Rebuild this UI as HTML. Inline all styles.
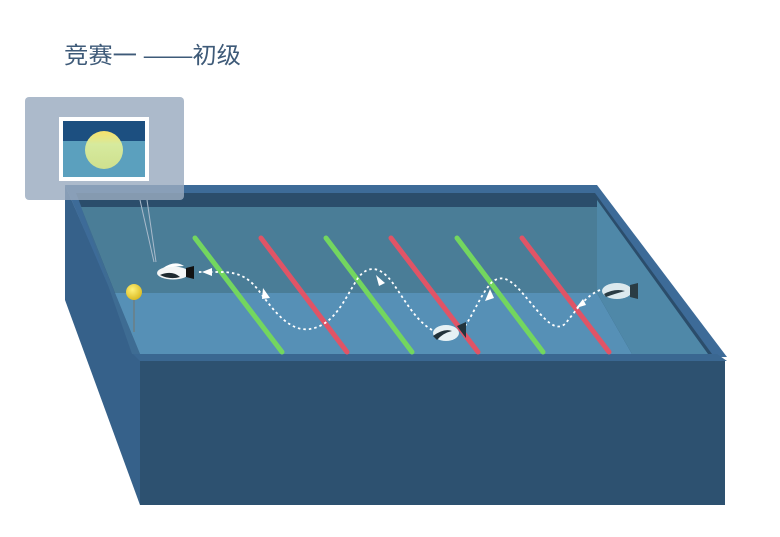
<!DOCTYPE html>
<html><head><meta charset="utf-8"><style>
html,body{margin:0;padding:0;background:#fff;width:780px;height:537px;overflow:hidden}
</style></head><body>
<svg width="780" height="537" viewBox="0 0 780 537" xmlns="http://www.w3.org/2000/svg">
<defs>
<linearGradient id="sun" x1="0" y1="0" x2="0" y2="1">
<stop offset="0" stop-color="#f7e16a"/><stop offset="0.35" stop-color="#d6ea9e"/><stop offset="1" stop-color="#cfe08e"/>
</linearGradient>
<radialGradient id="ball" cx="0.4" cy="0.35" r="0.7">
<stop offset="0" stop-color="#fff27a"/><stop offset="1" stop-color="#d9b81e"/>
</radialGradient>
</defs>
<text x="64" y="63" font-family="'Liberation Sans','Noto Sans CJK SC',sans-serif" font-size="23" fill="#3e5a78" textLength="177" lengthAdjust="spacingAndGlyphs">竞赛一 ——初级</text>

<!-- left outer face -->
<polygon points="65,185 140,357 140,505 65,300" fill="#36618a"/>
<!-- front face -->
<rect x="140" y="360" width="585" height="145" fill="#2d5170"/>
<!-- rim -->
<polygon points="65,185 597,185 727,357 140,360" fill="#3d6b98"/>
<!-- interior back wall top dark band -->
<polygon points="76,193 595,193 712,354 138,354" fill="#2b4d6b"/>
<!-- back wall water -->
<polygon points="81,207 597,207 597,293 115,293" fill="#4a7d97"/>
<!-- left inner wall -->
<polygon points="76,193 81,207 115,293 140,354 132,354" fill="#3e6c93"/>
<!-- floor -->
<polygon points="115,293 597,293 632,354 140,354" fill="#5690b6"/>
<!-- right inner wall -->
<polygon points="597,207 597,293 632,354 708,354 597,200" fill="#4f88a8"/>
<!-- rim front lip -->
<polygon points="133,354 717,354 727,361 140,361" fill="#3a6791"/>

<!-- sticks -->
<g stroke-width="5" stroke-linecap="round">
<line x1="195" y1="238" x2="282" y2="352" stroke="#73d65f"/>
<line x1="261" y1="238" x2="347" y2="352" stroke="#e05466"/>
<line x1="326" y1="238" x2="412" y2="352" stroke="#73d65f"/>
<line x1="391" y1="238" x2="478" y2="352" stroke="#e05466"/>
<line x1="457" y1="238" x2="543" y2="352" stroke="#73d65f"/>
<line x1="522" y1="238" x2="609" y2="352" stroke="#e05466"/>
</g>

<!-- ball -->
<line x1="134" y1="296" x2="134" y2="332" stroke="#6c7f85" stroke-width="1.5"/>
<circle cx="134" cy="292" r="8" fill="url(#ball)"/>

<!-- dashed path -->
<g fill="none" stroke="#fff" stroke-width="1.8" stroke-dasharray="2.5,3">
<path d="M600,290 C585,296 575,312 565,324 C555,332 545,320 530,302 C515,284 505,272 492,282 C480,295 472,318 462,330"/>
<path d="M432,330 C415,320 405,300 392,282 C380,266 368,265 358,278 C345,298 335,325 310,329 C290,332 275,312 262,295 C250,278 240,272 220,272 L196,272"/>
</g>
<g fill="#fff">
<polygon points="583,299 576,308 586,305"/>
<polygon points="490,289 485,301 494,298"/>
<polygon points="385,283 376,275 379,286"/>
<polygon points="270,298 263,288 262,299"/>
<polygon points="202,272 212,268 212,276"/>
</g>

<!-- fish -->
<g>
<ellipse cx="173" cy="273" rx="16" ry="6.5" fill="#f4f6f6"/>
<path d="M160,275 Q172,270 180,277 Q170,280 160,275z" fill="#1f2a30"/>
<path d="M186,268 L194,266 L194,279 L186,277z" fill="#111"/>
<path d="M163,268 Q175,260 184,266 L170,267z" fill="#fff"/>
</g>
<g>
<ellipse cx="446" cy="333" rx="13" ry="8" fill="#e6f1f4"/>
<path d="M433,336 Q444,328 452,331 Q443,333 437,340z" fill="#21323a"/>
<path d="M457,326 L466,322 L466,338z" fill="#22343c"/>
</g>
<g>
<ellipse cx="617" cy="291" rx="15" ry="8" fill="#dce9ee"/>
<path d="M604,294 Q615,288 625,291 Q614,294 606,297z" fill="#2a3c44"/>
<path d="M630,285 L638,283 L638,299 L630,297z" fill="#2a3c44"/>
</g>

<!-- callout -->
<rect x="25" y="97" width="159" height="103" rx="4" fill="#9aabc0" fill-opacity="0.82"/>
<line x1="140" y1="200" x2="154" y2="262" stroke="#a9bacb" stroke-width="1"/>
<line x1="147" y1="200" x2="156" y2="262" stroke="#a9bacb" stroke-width="1"/>
<rect x="59" y="117" width="90" height="64" fill="#fff"/>
<rect x="63" y="121" width="82" height="56" fill="#5ba0be"/>
<rect x="63" y="121" width="82" height="20" fill="#1c4f80"/>
<circle cx="104" cy="150" r="19" fill="url(#sun)"/>
</svg>
</body></html>
